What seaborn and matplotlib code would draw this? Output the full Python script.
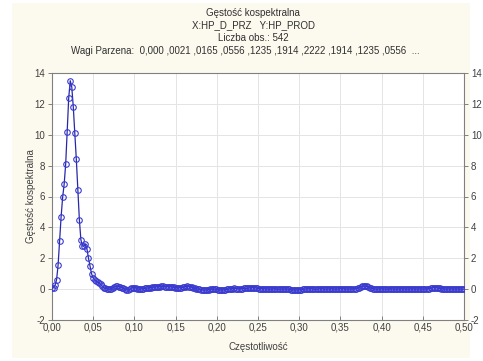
import numpy as np
import pandas as pd
import matplotlib
matplotlib.use("Agg")
import matplotlib.pyplot as plt
import seaborn as sns
from matplotlib.ticker import FuncFormatter, MultipleLocator

n_obs = 542

# Co-spectral density values at frequencies k/542, k = 0..271
density_peak = [
    0.05, 0.1, 0.25, 0.6, 1.55, 3.1, 4.7, 5.95, 6.8, 8.1, 10.2, 12.4,
    13.5, 13.1, 11.8, 10.1, 8.4, 6.4, 4.5, 3.2, 2.8, 2.8, 2.9, 2.6,
    2.0, 1.5, 1.0, 0.75, 0.6, 0.5, 0.45, 0.4, 0.3, 0.2, 0.1, 0.05,
]
density_tail = [
    0.02, 0.0, 0.0, 0.02,
    0.1, 0.15, 0.18, 0.18, 0.17, 0.15, 0.1, 0.05,
    -0.02, -0.05, -0.05, -0.02,
    0.05, 0.1, 0.1, 0.08, 0.03,
    0.0, 0.0, 0.02, 0.03, 0.05, 0.06,
    0.07, 0.08, 0.1, 0.12, 0.13, 0.14, 0.15, 0.16,
    0.17, 0.18, 0.18, 0.17, 0.17, 0.16, 0.15, 0.15, 0.14, 0.12,
    0.1, 0.09, 0.08, 0.09, 0.1, 0.12,
    0.15, 0.17, 0.18, 0.17, 0.15, 0.12, 0.08,
    0.05, 0.02, 0.0, -0.02, -0.04,
    -0.05, -0.06, -0.06, -0.05, -0.03, -0.02,
    0.0, 0.01, 0.0, -0.02, -0.04,
    -0.05, -0.06, -0.06, -0.05, -0.04, -0.02, 0.0,
    0.02, 0.03, 0.04, 0.05, 0.04, 0.03, 0.02, 0.03, 0.04, 0.05, 0.05, 0.05,
    0.06, 0.08, 0.09, 0.1, 0.09, 0.08, 0.06, 0.04,
    0.03, 0.03, 0.02, 0.02, 0.01, 0.01, 0.0, 0.0, 0.01, 0.02, 0.02, 0.01,
    0.0, 0.0, 0.0, 0.01, 0.01, 0.0, 0.0,
    -0.02, -0.04, -0.05, -0.06, -0.06, -0.06, -0.05, -0.04, -0.03, -0.02, 0.0,
    0.01, 0.02, 0.02, 0.03, 0.02, 0.01, 0.0, 0.0, 0.01, 0.02, 0.03, 0.02,
    0.01, 0.0, 0.0, 0.01, 0.02, 0.02, 0.01, 0.0, 0.0, 0.01, 0.02, 0.03,
    0.03, 0.02, 0.01, 0.0, 0.0, 0.01, 0.02, 0.02, 0.03, 0.03,
    0.05, 0.1, 0.15, 0.18, 0.2, 0.2, 0.18, 0.15, 0.1, 0.06, 0.03, 0.01,
    0.0, 0.0, 0.01, 0.01, 0.02, 0.01, 0.0, 0.0, 0.01, 0.02, 0.02, 0.01,
    0.0, 0.0, 0.0, 0.01, 0.01, 0.02, 0.02, 0.01, 0.0, 0.0, 0.01, 0.01,
    0.02, 0.01, 0.0, 0.0, 0.01, 0.01, 0.01, 0.0, 0.01, 0.01,
    0.02, 0.04, 0.06, 0.08, 0.1, 0.1, 0.09, 0.07, 0.05, 0.03, 0.02, 0.01,
    0.0, 0.0, 0.01, 0.01, 0.02, 0.01, 0.0, 0.0, 0.01, 0.01, 0.0, 0.0, 0.0,
]
density = density_peak + density_tail
frequency = [k / n_obs for k in range(len(density))]

title_lines = [
    "Gęstość kospektralna",
    "X:HP_D_PRZ   Y:HP_PROD",
    "Liczba obs.: 542",
    "Wagi Parzena:  0,000 ,0021 ,0165 ,0556 ,1235 ,1914 ,2222 ,1914 ,1235 ,0556  ...",
]
x_label = "Częstotliwość"
y_label = "Gęstość kospektralna"

df = pd.DataFrame({"f": frequency, "d": density})

sns.set_theme(style="white")
plt.rcParams["font.family"] = ["Liberation Sans", "DejaVu Sans"]

W, H = 483, 361
fig = plt.figure(figsize=(W / 100, H / 100), dpi=100, facecolor="white")
bg = plt.Rectangle((12 / W, 3 / H), (470 - 12) / W, (358 - 3) / H,
                   transform=fig.transFigure, facecolor="#fcf9ee",
                   edgecolor="none", zorder=-10)
fig.patches.append(bg)

ax = fig.add_axes([52 / W, 1 - 320 / H, (464 - 52) / W, (320 - 73) / H])
ax.set_zorder(1)
ax.set_facecolor("white")

sns.lineplot(data=df, x="f", y="d", ax=ax, color="#2828a8", linewidth=0.9,
             marker="o", markersize=4.0, markerfacecolor="none",
             markeredgecolor="#3a3ad0", markeredgewidth=0.8, zorder=3)

ax.set_xlim(0, 0.5)
ax.set_ylim(-2, 14)
ax.xaxis.set_major_locator(MultipleLocator(0.05))
ax.yaxis.set_major_locator(MultipleLocator(2))
ax.xaxis.set_major_formatter(FuncFormatter(lambda v, p: f"{v:.2f}".replace(".", ",")))
ax.yaxis.set_major_formatter(FuncFormatter(lambda v, p: f"{int(round(v))}"))

ax.grid(True, color="#e4e4e4", linewidth=0.7)
for s in ax.spines.values():
    s.set_color("#808080")
    s.set_linewidth(0.8)
    s.set_visible(True)

ax.tick_params(axis="y", which="both", left=True, right=True, labelleft=True,
               labelright=True, direction="out", length=3, width=0.7,
               color="#808080", labelsize=7, labelcolor="#404040", pad=2)
ax.tick_params(axis="x", which="both", bottom=True, direction="in", length=3,
               width=0.7, color="#808080", labelsize=7, labelcolor="#404040", pad=2)

ax.set_xlabel(x_label, fontsize=7, color="#404040")
ax.set_ylabel(y_label, fontsize=7, color="#404040")
ax.xaxis.set_label_coords(0.5, -0.09)
ax.yaxis.set_label_coords(-0.04, 0.5)

title_pos = [(253, 13), (254, 25.5), (253, 38), (245, 50.5)]
for t, (xx, yy) in zip(title_lines, title_pos):
    fig.text(xx / W, 1 - yy / H, t, ha="center", va="center", fontsize=7,
             color="#303030")

fig.savefig("out.png", dpi=100, facecolor="white")
